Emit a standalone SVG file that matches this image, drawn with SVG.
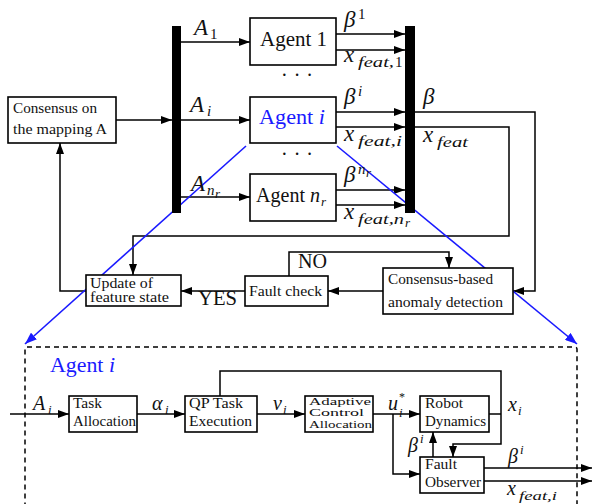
<svg xmlns="http://www.w3.org/2000/svg" width="592" height="504" viewBox="0 0 592 504" font-family="Liberation Serif, DejaVu Serif, serif">
  <style>
    .box { fill: #fff; stroke: #000; stroke-width: 1.6; }
    .ln { fill: none; stroke: #000; stroke-width: 1.5; }
    .blue { fill: none; stroke: #1a1aff; stroke-width: 1.6; }
    text { fill: #111; }
    .m { font-style: italic; }
    .ag { font-size: 20px; }
    .bx { font-size: 14px; }
    .lab { font-size: 23px; }
    .sub { font-size: 15px; font-style: italic; }
    .lab2 { font-size: 20px; font-style: italic; }
    .sub2 { font-size: 13px; font-style: italic; }
  </style>
  <defs>
    <marker id="arr" markerUnits="userSpaceOnUse" markerWidth="11" markerHeight="8" refX="11" refY="4" orient="auto">
      <path d="M0,0 L11,4 L0,8 z" fill="#000"/>
    </marker>
    <marker id="arrB" markerUnits="userSpaceOnUse" markerWidth="12" markerHeight="9" refX="12" refY="4.5" orient="auto">
      <path d="M0,0 L12,4.5 L0,9 z" fill="#1a1aff"/>
    </marker>
  </defs>

  <!-- connectors -->
  <g id="connectors">
    <!-- consensus to distribution bar -->
    <line class="ln" x1="116" y1="120" x2="172" y2="120" marker-end="url(#arr)"/>
    <!-- mapping to agents -->
    <line class="ln" x1="181" y1="42" x2="250" y2="42" marker-end="url(#arr)"/>
    <line class="ln" x1="181" y1="120" x2="250" y2="120" marker-end="url(#arr)"/>
    <line class="ln" x1="181" y1="197" x2="250" y2="197" marker-end="url(#arr)"/>
    <!-- agents to collection bar -->
    <line class="ln" x1="336" y1="34" x2="405" y2="34" marker-end="url(#arr)"/>
    <line class="ln" x1="336" y1="50" x2="405" y2="50" marker-end="url(#arr)"/>
    <line class="ln" x1="336" y1="112" x2="405" y2="112" marker-end="url(#arr)"/>
    <line class="ln" x1="336" y1="127" x2="405" y2="127" marker-end="url(#arr)"/>
    <line class="ln" x1="336" y1="190" x2="405" y2="190" marker-end="url(#arr)"/>
    <line class="ln" x1="336" y1="205" x2="405" y2="205" marker-end="url(#arr)"/>
    <!-- beta to anomaly detection -->
    <polyline class="ln" points="415,112 535,112 535,291 513,291" marker-end="url(#arr)"/>
    <!-- x_feat to feature state update -->
    <polyline class="ln" points="415,127 509,127 509,236 133,236 133,275" marker-end="url(#arr)"/>
    <!-- anomaly detection to fault check -->
    <line class="ln" x1="383" y1="291" x2="328" y2="291" marker-end="url(#arr)"/>
    <!-- NO branch -->
    <polyline class="ln" points="289,276 289,252 449,252 449,268" marker-end="url(#arr)"/>
    <!-- YES branch -->
    <line class="ln" x1="245" y1="291" x2="181" y2="291" marker-end="url(#arr)"/>
    <!-- feature state back to consensus -->
    <polyline class="ln" points="86,291 60,291 60,143" marker-end="url(#arr)"/>

    <!-- zoom lines -->
    <line class="blue" x1="246" y1="146" x2="25" y2="344" marker-end="url(#arrB)"/>
    <line class="blue" x1="337" y1="146" x2="577" y2="344" marker-end="url(#arrB)"/>

    <!-- agent internals -->
    <line class="ln" x1="10" y1="414" x2="69" y2="414" marker-end="url(#arr)"/>
    <line class="ln" x1="137" y1="414" x2="185" y2="414" marker-end="url(#arr)"/>
    <line class="ln" x1="257" y1="414" x2="305" y2="414" marker-end="url(#arr)"/>
    <line class="ln" x1="373" y1="414" x2="420" y2="414" marker-end="url(#arr)"/>
    <polyline class="ln" points="393,414 393,474 420,474" marker-end="url(#arr)"/>
    <line class="ln" x1="489" y1="414" x2="501" y2="414"/>
    <polyline class="ln" points="220,396 220,371 501,371 501,444 453,444 453,457" marker-end="url(#arr)"/>
    <line class="ln" x1="433" y1="457" x2="433" y2="432" marker-end="url(#arr)"/>
    <line class="ln" x1="484" y1="468" x2="592" y2="468" marker-end="url(#arr)"/>
    <line class="ln" x1="484" y1="481" x2="592" y2="481" marker-end="url(#arr)"/>
  </g>

  <!-- bars -->
  <rect id="bar-in" x="172" y="26" width="9" height="187" fill="#000"/>
  <rect id="bar-out" x="405" y="26" width="10" height="187" fill="#000"/>

  <!-- top level nodes -->
  <g id="consensus-mapping">
    <rect class="box" x="8" y="97" width="108" height="46"/>
    <text class="bx" x="13" y="113" textLength="84" lengthAdjust="spacingAndGlyphs">Consensus on</text>
    <text class="bx" x="13" y="134" textLength="94" lengthAdjust="spacingAndGlyphs">the mapping A</text>
  </g>
  <g id="agent-1">
    <rect class="box" x="250" y="18" width="86" height="47"/>
    <text class="ag" x="260" y="46" textLength="67" lengthAdjust="spacingAndGlyphs">Agent 1</text>
  </g>
  <g id="agent-i">
    <rect class="box" x="250" y="97" width="86" height="46"/>
    <text class="ag" x="259" y="124" textLength="66" lengthAdjust="spacingAndGlyphs" style="fill:#1a1aff">Agent <tspan font-style="italic">i</tspan></text>
  </g>
  <g id="agent-nr">
    <rect class="box" x="250" y="174" width="86" height="47"/>
    <text class="ag" x="256" y="202" textLength="64" lengthAdjust="spacingAndGlyphs">Agent <tspan font-style="italic">n</tspan></text>
    <text class="sub2" x="321" y="206">r</text>
  </g>
  <g id="dots">
    <text class="ag" x="281" y="82" textLength="32" lengthAdjust="spacing">· · ·</text>
    <text class="ag" x="281" y="161" textLength="32" lengthAdjust="spacing">· · ·</text>
  </g>
  <g id="update-feature">
    <rect class="box" x="86" y="275" width="95" height="31"/>
    <text class="bx" x="90" y="288" textLength="63" lengthAdjust="spacingAndGlyphs">Update of</text>
    <text class="bx" x="90" y="302" textLength="79" lengthAdjust="spacingAndGlyphs">feature state</text>
  </g>
  <g id="fault-check">
    <rect class="box" x="245" y="276" width="83" height="30"/>
    <text class="bx" x="249" y="296" textLength="73" lengthAdjust="spacingAndGlyphs">Fault check</text>
  </g>
  <g id="anomaly-detection">
    <rect class="box" x="383" y="268" width="130" height="46"/>
    <text class="bx" x="388" y="284" textLength="105" lengthAdjust="spacingAndGlyphs">Consensus-based</text>
    <text class="bx" x="388" y="307" textLength="115" lengthAdjust="spacingAndGlyphs">anomaly detection</text>
  </g>

  <!-- top level labels -->
  <g id="top-labels">
    <text class="m lab" x="194" y="35">A</text><text font-size="15" x="210" y="39">1</text>
    <text class="m lab" x="190" y="112">A</text><text class="sub" x="207" y="116">i</text>
    <text class="m lab" x="191" y="191">A</text><text class="sub" x="207" y="195">n</text><text class="sub2" font-size="11" x="215" y="198">r</text>

    <text class="m lab" x="344" y="27">β</text><text font-size="15" x="358" y="19">1</text>
    <text class="m lab" x="344" y="62">x</text><text class="sub" x="358" y="67" textLength="36" lengthAdjust="spacingAndGlyphs">feat,</text><text font-size="15" x="395" y="67">1</text>

    <text class="m lab" x="344" y="104">β</text><text class="sub" x="358" y="96">i</text>
    <text class="m lab" x="344" y="141">x</text><text class="sub" x="358" y="146" textLength="44" lengthAdjust="spacingAndGlyphs">feat,i</text>

    <text class="m lab" x="344" y="182">β</text><text class="sub" x="358" y="174">n</text><text class="sub2" font-size="11" x="366" y="177">r</text>
    <text class="m lab" x="344" y="219">x</text><text class="sub" x="358" y="224" textLength="46" lengthAdjust="spacingAndGlyphs">feat,n</text><text class="sub2" font-size="11" x="405" y="227">r</text>

    <text class="m lab" x="423" y="104">β</text>
    <text class="m lab" x="423" y="142">x</text><text class="sub" x="437" y="147" textLength="31" lengthAdjust="spacingAndGlyphs">feat</text>

    <text class="ag" x="298" y="268" textLength="29" lengthAdjust="spacingAndGlyphs">NO</text>
    <text class="ag" x="198" y="305" textLength="39" lengthAdjust="spacingAndGlyphs">YES</text>
  </g>

  <!-- agent i detail -->
  <rect id="agent-frame" x="25" y="347" width="552" height="170" rx="2" fill="none" stroke="#000" stroke-width="1.5" stroke-dasharray="5,4"/>
  <text class="ag" x="50" y="372" textLength="65" lengthAdjust="spacingAndGlyphs" style="fill:#1a1aff">Agent <tspan font-style="italic">i</tspan></text>

  <g id="task-allocation">
    <rect class="box" x="69" y="396" width="68" height="36"/>
    <text class="bx" x="73" y="408" textLength="29" lengthAdjust="spacingAndGlyphs">Task</text>
    <text class="bx" x="73" y="426" textLength="63" lengthAdjust="spacingAndGlyphs">Allocation</text>
  </g>
  <g id="qp-task">
    <rect class="box" x="185" y="396" width="72" height="36"/>
    <text class="bx" x="189" y="408" textLength="54" lengthAdjust="spacingAndGlyphs">QP Task</text>
    <text class="bx" x="189" y="426" textLength="63" lengthAdjust="spacingAndGlyphs">Execution</text>
  </g>
  <g id="adaptive-control">
    <rect class="box" x="305" y="396" width="68" height="36"/>
    <text font-size="10" x="309" y="404.5" textLength="62" lengthAdjust="spacingAndGlyphs">Adaptive</text>
    <text font-size="10" x="309" y="416" textLength="55" lengthAdjust="spacingAndGlyphs">Control</text>
    <text font-size="10" x="309" y="427.5" textLength="63" lengthAdjust="spacingAndGlyphs">Allocation</text>
  </g>
  <g id="robot-dynamics">
    <rect class="box" x="420" y="396" width="69" height="36"/>
    <text class="bx" x="425" y="408" textLength="38" lengthAdjust="spacingAndGlyphs">Robot</text>
    <text class="bx" x="425" y="426" textLength="61" lengthAdjust="spacingAndGlyphs">Dynamics</text>
  </g>
  <g id="fault-observer">
    <rect class="box" x="420" y="457" width="64" height="36"/>
    <text class="bx" x="425" y="469" textLength="32" lengthAdjust="spacingAndGlyphs">Fault</text>
    <text class="bx" x="425" y="487" textLength="56" lengthAdjust="spacingAndGlyphs">Observer</text>
  </g>

  <g id="agent-labels">
    <text class="lab2" x="33" y="410">A</text><text class="sub2" x="48" y="414">i</text>
    <text class="lab2" x="152" y="410">α</text><text class="sub2" x="165" y="414">i</text>
    <text class="lab2" x="273" y="410">v</text><text class="sub2" x="283" y="414">i</text>
    <text class="lab2" x="388" y="410">u</text><text class="sub2" x="399" y="417">i</text><text font-size="12" x="399" y="401">*</text>
    <text class="lab2" x="508" y="411">x</text><text class="sub2" x="518" y="415">i</text>
    <text class="lab2" x="408" y="452">β</text><text class="sub2" x="420" y="443">i</text>
    <text class="lab2" x="508" y="463">β</text><text class="sub2" x="520" y="454">i</text>
    <text class="lab2" x="507" y="495">x</text><text class="sub2" x="519" y="500" textLength="38" lengthAdjust="spacingAndGlyphs">feat,i</text>
  </g>
</svg>
